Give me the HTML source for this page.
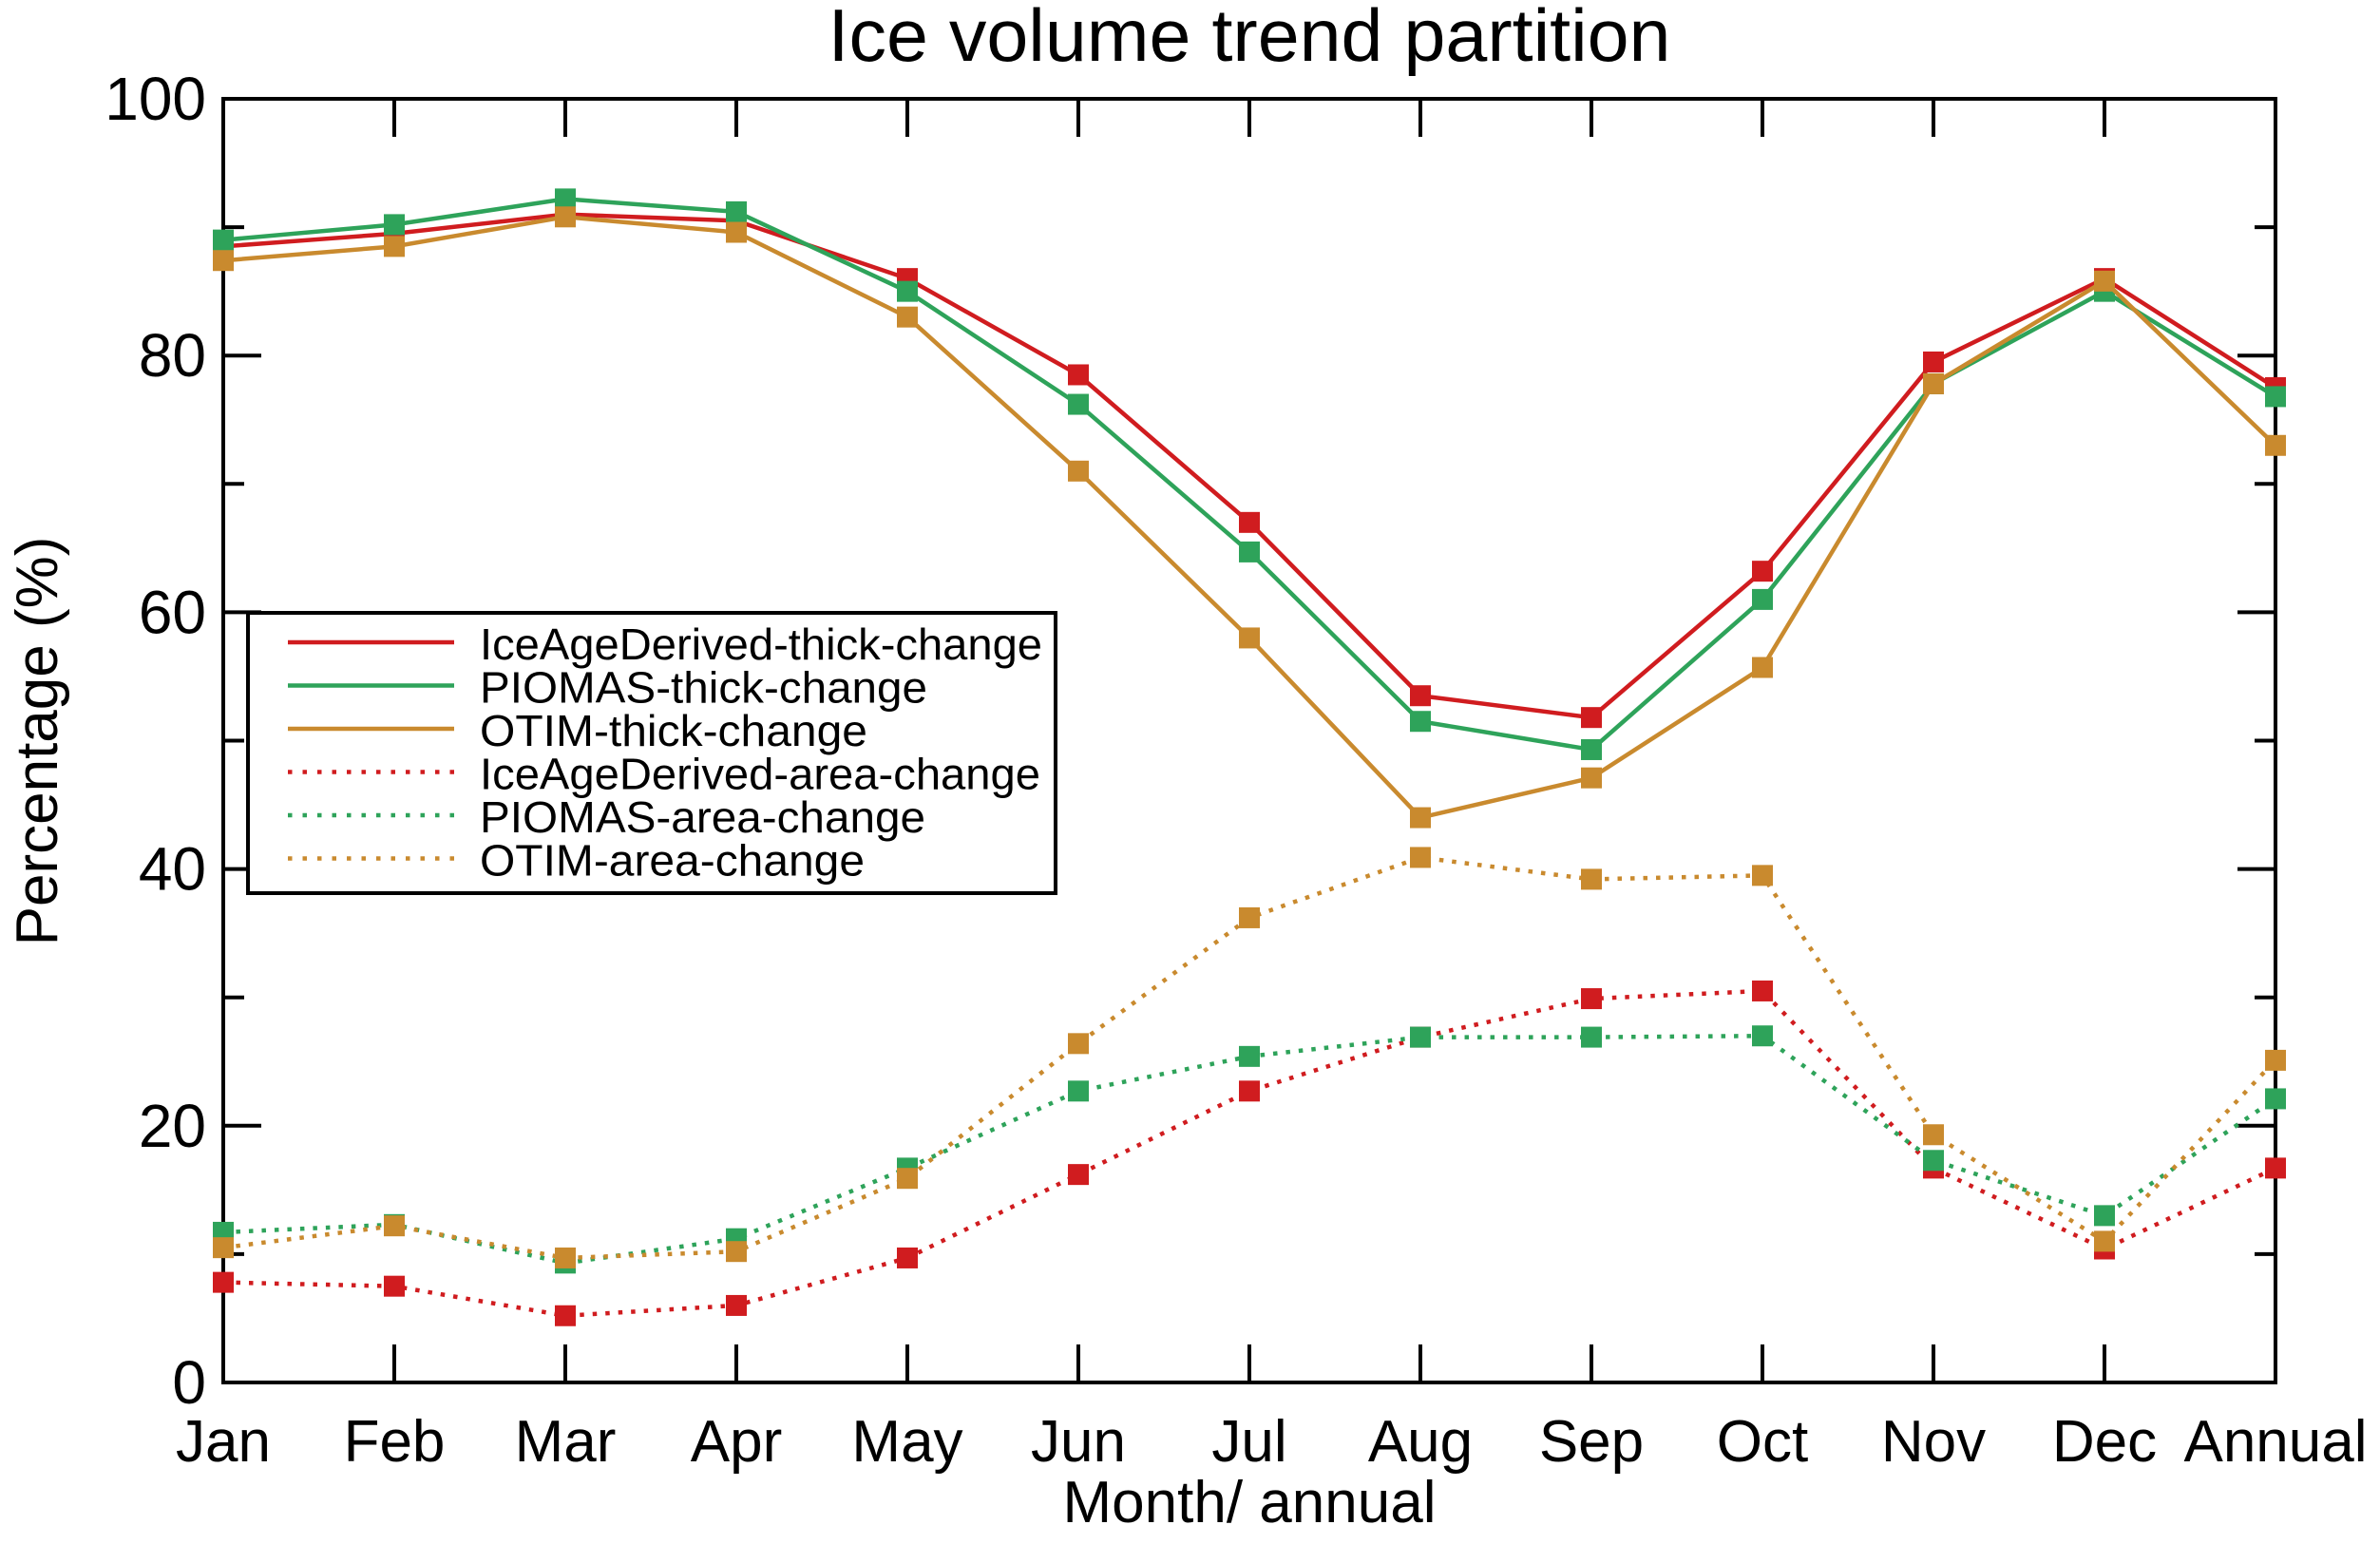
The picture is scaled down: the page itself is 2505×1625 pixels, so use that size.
<!DOCTYPE html>
<html><head><meta charset="utf-8"><style>
html,body{margin:0;padding:0;background:#fff;}
svg text{font-family:"Liberation Sans",sans-serif;fill:#000;}
</style></head><body>
<svg id="chart" width="2505" height="1620" viewBox="0 0 2505 1620" xmlns="http://www.w3.org/2000/svg">
<text x="1315" y="64" font-size="78" text-anchor="middle" textLength="887" lengthAdjust="spacingAndGlyphs">Ice volume trend partition</text>
<g id="grid"></g>
<g id="series"></g>
<text x="1315" y="1602" font-size="62" text-anchor="middle">Month/ annual</text>
<text x="0" y="0" font-size="62" text-anchor="middle" transform="translate(60,780) rotate(-90)">Percentage (%)</text>
<g id="legend"></g>
</svg>
<script>
const categories = ["Jan","Feb","Mar","Apr","May","Jun","Jul","Aug","Sep","Oct","Nov","Dec","Annual"];
const yTicks = [0,20,40,60,80,100];
const iceAgeThick = [88.5,89.5,91,90.5,86,78.5,67,53.5,51.8,63.2,79.5,86,77.5];
const piomasThick = [89,90.2,92.2,91.2,85,76.2,64.7,51.5,49.3,61,77.8,85,76.8];
const otimThick = [87.4,88.5,90.8,89.6,83,71,58,44,47.1,55.7,77.8,85.8,73];
const iceAgeArea = [7.8,7.5,5.2,6.0,9.7,16.2,22.7,26.9,29.9,30.5,16.7,10.4,16.7];
const piomasArea = [11.7,12.3,9.3,11.2,16.7,22.7,25.4,26.9,26.9,27,17.3,13,22.1];
const otimArea = [10.5,12.2,9.7,10.2,15.9,26.4,36.2,40.9,39.2,39.5,19.3,11,25.1];
const seriesNames = ["IceAgeDerived-thick-change","PIOMAS-thick-change","OTIM-thick-change","IceAgeDerived-area-change","PIOMAS-area-change","OTIM-area-change"];
const legendWidths = [592,471,408,590,469,405];

const L=235,R=2395,T=104,B=1455;
const RED="#d01c1f",GRN="#2ea35a",ORG="#c98a2e";
const ns="http://www.w3.org/2000/svg";
const xS=i=>L+(R-L)*i/(categories.length-1);
const yS=v=>B-(B-T)*v/100;
function mk(tag,attrs,parent){const e=document.createElementNS(ns,tag);for(const k in attrs)e.setAttribute(k,attrs[k]);parent.appendChild(e);return e;}
const grid=document.getElementById('grid');
let frame=mk('rect',{x:L,y:T,width:R-L,height:B-T,fill:'none',stroke:'#000','stroke-width':4},grid);


for(let v=0;v<=100;v+=10){
  const len=(v%20===0)?40:22;
  let t1=mk('line',{x1:L,x2:L+len,y1:yS(v),y2:yS(v),stroke:'#000','stroke-width':4},grid);
  
  
  let t2=mk('line',{x1:R-len,x2:R,y1:yS(v),y2:yS(v),stroke:'#000','stroke-width':4},grid);
  
  
}
yTicks.forEach(v=>{
  let t=mk('text',{x:L-18,y:yS(v)+22,'font-size':64,'text-anchor':'end'},grid);
  t.textContent=v;
  
  
});
categories.forEach((c,i)=>{
  let a=mk('line',{x1:xS(i),x2:xS(i),y1:B,y2:B-40,stroke:'#000','stroke-width':4},grid);
  
  
  let b=mk('line',{x1:xS(i),x2:xS(i),y1:T,y2:T+40,stroke:'#000','stroke-width':4},grid);
  
  
  let t=mk('text',{x:xS(i),y:1538,'font-size':62,'text-anchor':'middle'},grid);
  t.textContent=c;
  
  
});
const sg=document.getElementById('series');
const all=[[iceAgeThick,RED,false],[piomasThick,GRN,false],[otimThick,ORG,false],[iceAgeArea,RED,true],[piomasArea,GRN,true],[otimArea,ORG,true]];
all.forEach(([d,col,dot],k)=>{
  const pts=d.map((v,i)=>xS(i)+','+yS(v)).join(' ');
  let pl=mk('polyline',{points:pts,fill:'none',stroke:col,'stroke-width':dot?4.5:4.5,'stroke-dasharray':dot?'4.5 9':'none'},sg);
  
  
  d.forEach((v,i)=>{
    let m=mk('rect',{x:xS(i)-11,y:yS(v)-11,width:22,height:22,fill:col},sg);
    
    
  });
});
const lg=document.getElementById('legend');
let box=mk('rect',{x:261,y:645,width:850,height:295,fill:'#fff',stroke:'#000','stroke-width':4},lg);


all.forEach(([d,col,dot],k)=>{
  const y=676+k*45.5;
  let ln=mk('line',{x1:303,x2:478,y1:y,y2:y,stroke:col,'stroke-width':4.5,'stroke-dasharray':dot?'4.5 11':'none'},lg);
  
  
  let t=mk('text',{x:505,y:y+18,'font-size':46,textLength:legendWidths[k],lengthAdjust:'spacingAndGlyphs'},lg);
  t.textContent=seriesNames[k];
  
  
});
</script>
</body></html>
